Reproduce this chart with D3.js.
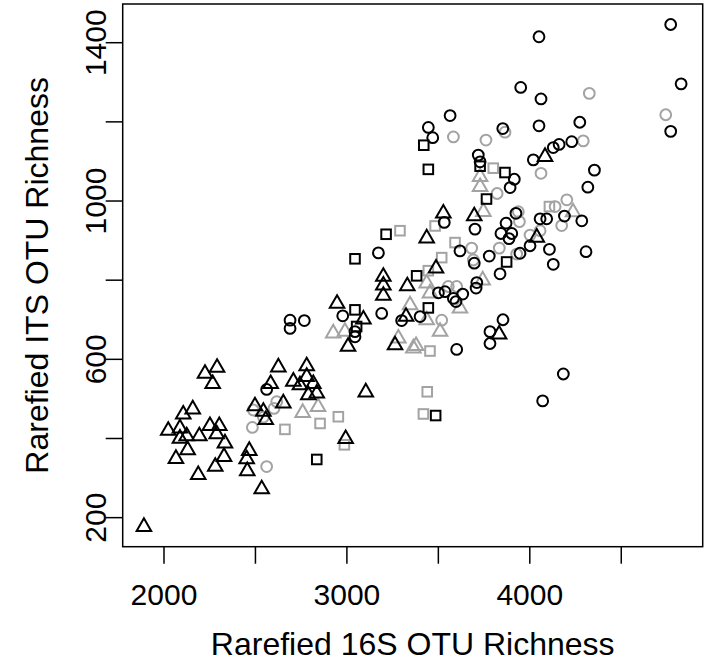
<!DOCTYPE html>
<html lang="en">
<head>
    <meta charset="UTF-8">
    <title>ITS vs 16S OTU richness</title>
    <style>
        body {
            margin: 0;
            background: #fff;
            font-family: "Liberation Sans", Arial, Helvetica, sans-serif;
        }
        .box { fill: none; stroke: #000; stroke-width: 1.5px; }
        .tick line { stroke: #000; stroke-width: 1.5px; }
        .pt { fill: none; stroke-width: 2px; }
    </style>
</head>
<body>
    <div id="chart"></div>
    <script src="https://d3js.org/d3.v7.min.js"></script>
    <script>

        // [16S richness, ITS richness]
        var blackCircles = [
            [4773, 1446], [4053, 1415], [4830, 1296], [3953, 1287], [4064, 1258], [4773, 1176],
            [4053, 1190], [4276, 1199], [4232, 1150], [4163, 1143], [4131, 1135], [4022, 1104],
            [4356, 1078], [3918, 1055], [3895, 1034], [4320, 1035], [3567, 1216], [3448, 1186],
            [3472, 1160], [3721, 1116], [3731, 1099], [3855, 1183], [4059, 955], [4095, 955],
            [4192, 962], [4287, 950], [3927, 969], [3873, 944], [3845, 918], [3904, 918],
            [3889, 905], [4004, 887], [4110, 878], [4310, 872], [3949, 868], [4131, 840],
            [3840, 816], [3856, 700], [4186, 563], [4073, 495], [3535, 946], [3703, 929],
            [3621, 874], [3781, 861], [3175, 869], [3699, 843], [3713, 794], [3709, 780],
            [3503, 768], [3539, 771], [3585, 754], [3599, 746], [3636, 765], [2980, 710],
            [3193, 716], [3047, 670], [3047, 657], [3302, 698], [3403, 708], [3603, 625],
            [3785, 670], [3785, 640], [2692, 699], [2692, 678], [2770, 698], [2564, 524]
        ];

        var blackTriangles = [
            [4086, 1112], [4041, 908], [3835, 663], [3530, 969], [3699, 962], [3439, 906],
            [3490, 830], [3202, 809], [3202, 787], [3202, 761], [3333, 785], [2949, 741],
            [3093, 701], [3009, 632], [3326, 708], [3266, 636], [3106, 517], [2996, 399],
            [2783, 583], [2628, 580], [2293, 579], [2227, 564], [2269, 538], [2586, 538],
            [2710, 544], [2746, 535], [2783, 556], [2819, 538], [2792, 510], [2838, 514],
            [2655, 489], [2500, 482], [2546, 468], [2559, 447], [2160, 474], [2108, 461],
            [2026, 420], [2090, 426], [2090, 400], [2127, 406], [2196, 406], [2254, 432],
            [2305, 432], [2291, 411], [2336, 388], [2132, 371], [2068, 349], [2331, 354],
            [2283, 329], [2190, 308], [2469, 369], [2455, 348], [2458, 318], [2537, 272],
            [1893, 177]
        ];

        var blackSquares = [
            [3423, 1141], [3448, 1080], [3867, 1072], [3766, 1005], [3217, 916], [3047, 854],
            [3384, 811], [3047, 725], [3056, 683], [3448, 730], [3876, 846], [3488, 458],
            [2838, 347], [3731, 1088]
        ];

        var grayCircles = [
            [4328, 1272], [4746, 1218], [4295, 1152], [4064, 1070], [4205, 1003], [3585, 1162],
            [3763, 1154], [3867, 1174], [3824, 1019], [4141, 986], [3940, 973], [3946, 948],
            [4177, 938], [4004, 914], [4059, 925], [3931, 866], [3685, 881], [3836, 881],
            [3694, 851], [3557, 784], [3603, 784], [3521, 699], [2619, 493], [2604, 476],
            [2546, 454], [2491, 472], [2486, 428], [2564, 329]
        ];

        var grayTriangles = [
            [3731, 1061], [3731, 1036], [3749, 973], [4239, 972], [3439, 792], [3457, 767],
            [3348, 737], [3439, 699], [3512, 670], [3621, 729], [3284, 653], [3366, 628],
            [2928, 666], [2992, 670], [3745, 800], [2761, 465], [2845, 480], [3381, 634]
        ];

        var graySquares = [
            [3803, 1083], [4110, 986], [3293, 925], [3485, 937], [3594, 895], [3521, 857],
            [3448, 824], [3457, 621], [3442, 518], [3421, 462], [2956, 455], [2856, 438],
            [2989, 384], [2664, 423]
        ];

        var xTicks = [2000, 2500, 3000, 3500, 4000, 4500];
        var xLabels = [2000, 3000, 4000];
        var yTicks = [200, 400, 600, 800, 1000, 1200, 1400];
        var yLabels = [200, 600, 1000, 1400];

        var xTitle = "Rarefied 16S OTU Richness";
        var yTitle = "Rarefied ITS OTU Richness";

        var W = 708, H = 665;
        var box = { left: 122.7, right: 702.7, top: 4, bottom: 546.7 };

        var svg = d3.select("#chart").append("svg")
            .attr("width", W)
            .attr("height", H);

        var x = d3.scaleLinear().domain([1777, 4948]).range([box.left, box.right]);
        var y = d3.scaleLinear().domain([126.6, 1497.8]).range([box.bottom, box.top]);

        var black = "#000000", gray = "#a3a3a3";
        var r = 5.4; // circle radius, triangle and square follow R's pch sizing

        function circle(sel, data, color) {
            svg.append("g").selectAll("circle")
                .data(data).enter().append("circle")
                .attr("class", "pt")
                .attr("cx", function (d) { return x(d[0]); })
                .attr("cy", function (d) { return y(d[1]); })
                .attr("r", r)
                .attr("stroke", color);
        }

        var triPath = "M0," + (-r * 1.5551) + "L" + (r * 1.3468) + "," + (r * 0.7776) +
            "L" + (-r * 1.3468) + "," + (r * 0.7776) + "Z";
        var sq = r * 0.8862;

        function triangle(data, color) {
            svg.append("g").selectAll("path")
                .data(data).enter().append("path")
                .attr("class", "pt")
                .attr("d", triPath)
                .attr("transform", function (d) { return "translate(" + x(d[0]) + "," + y(d[1]) + ")"; })
                .attr("stroke", color);
        }

        function square(data, color) {
            svg.append("g").selectAll("rect")
                .data(data).enter().append("rect")
                .attr("class", "pt")
                .attr("x", function (d) { return x(d[0]) - sq; })
                .attr("y", function (d) { return y(d[1]) - sq; })
                .attr("width", sq * 2)
                .attr("height", sq * 2)
                .attr("stroke", color);
        }

        // gray first, black on top
        circle(svg, grayCircles, gray);
        triangle(grayTriangles, gray);
        square(graySquares, gray);
        circle(svg, blackCircles, black);
        triangle(blackTriangles, black);
        square(blackSquares, black);

        svg.append("rect")
            .attr("class", "box")
            .attr("x", box.left)
            .attr("y", box.top)
            .attr("width", box.right - box.left)
            .attr("height", box.bottom - box.top);

        // axes
        var xAxis = d3.axisBottom(x).tickValues(xTicks).tickSize(17)
            .tickFormat(function (d) { return xLabels.indexOf(d) >= 0 ? d : ""; });
        var gx = svg.append("g")
            .attr("transform", "translate(0," + box.bottom + ")")
            .call(xAxis);
        gx.select(".domain").remove();
        gx.selectAll("text")
            .attr("y", 0).attr("dy", 0)
            .attr("transform", "translate(0,58)")
            .style("font-size", "30px")
            .style("font-family", "Liberation Sans, Arial, sans-serif")
            .attr("fill", "#000");

        var yAxis = d3.axisLeft(y).tickValues(yTicks).tickSize(17)
            .tickFormat(function (d) { return yLabels.indexOf(d) >= 0 ? d : ""; });
        var gy = svg.append("g")
            .attr("transform", "translate(" + box.left + ",0)")
            .call(yAxis);
        gy.select(".domain").remove();
        gy.selectAll("text")
            .attr("x", 0).attr("dy", 0)
            .attr("text-anchor", "middle")
            .attr("transform", function (d) { return "translate(-17," + y(d) + ") rotate(-90)"; })
            .attr("y", 0)
            .style("font-size", "30px")
            .style("font-family", "Liberation Sans, Arial, sans-serif")
            .attr("fill", "#000");
        gy.selectAll(".tick").attr("transform", null);
        gy.selectAll(".tick line")
            .attr("y1", function (d) { return y(d); })
            .attr("y2", function (d) { return y(d); });

        svg.append("text")
            .attr("x", (box.left + box.right) / 2)
            .attr("y", 655)
            .attr("text-anchor", "middle")
            .style("font-size", "32px")
            .text(xTitle);

        svg.append("text")
            .attr("transform", "translate(48," + ((box.top + box.bottom) / 2) + ") rotate(-90)")
            .attr("text-anchor", "middle")
            .style("font-size", "32px")
            .text(yTitle);
    </script>
</body>
</html>
